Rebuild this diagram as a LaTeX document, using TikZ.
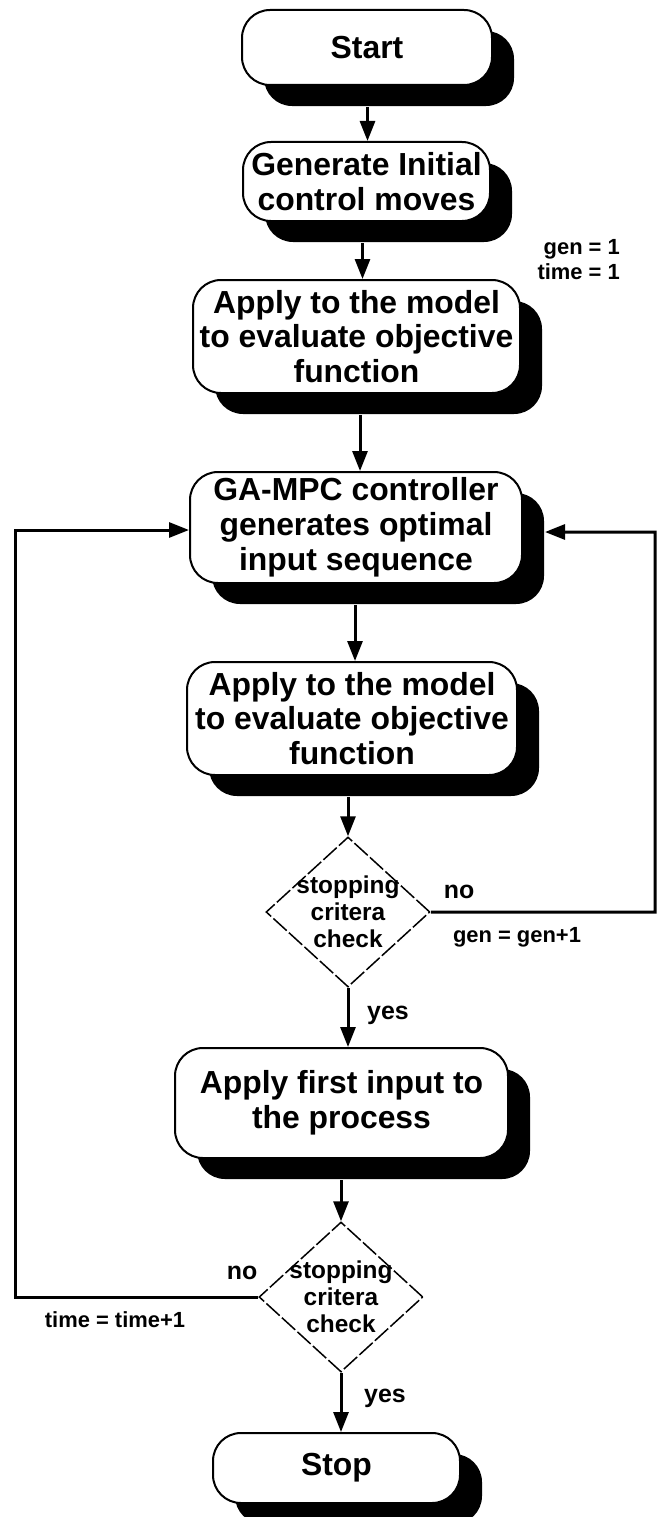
\documentclass[tikz,border=0pt]{standalone}
\usepackage{fontspec}
\setmainfont{Liberation Sans}
\usetikzlibrary{shapes.geometric,arrows.meta,shadows,calc}

\begin{document}
\begin{tikzpicture}[x=1bp,y=-1bp,
  box/.style={draw=black, line width=2bp, fill=white, rounded corners=28bp,
    align=center, inner sep=0pt, font=\bfseries\fontsize{32}{35}\selectfont,
    drop shadow={opacity=1, fill=black, shadow xshift=22bp, shadow yshift=-21bp}},
  decision/.style={shape=diamond, draw=black, line width=1.5bp,
    dash pattern=on 18bp off 3bp, fill=white, inner sep=0pt,
    minimum width=164bp, minimum height=150bp},
  dtext/.style={align=center, inner sep=0pt, font=\bfseries\fontsize{24.5}{27}\selectfont},
  lbl/.style={inner sep=0pt, font=\bfseries\fontsize{22}{25}\selectfont},
  yn/.style={inner sep=0pt, font=\bfseries\fontsize{25}{28}\selectfont},
  flow/.style={line width=3bp, -{Triangle[length=20bp,width=15bp]}}
]
\useasboundingbox (0,0) rectangle (658,1517);
\fill[white] (0,0) rectangle (658,1517);

% process boxes
\node[box, minimum width=250bp, minimum height=75bp] (start) at (367,47.5) {Start};
\node[box, minimum width=247bp, minimum height=79bp] (gen) at (366.5,181.5)
  {Generate Initial\\control moves};
\node[box, minimum width=327bp, minimum height=113bp] (apply1) at (356.5,336.5)
  {Apply to the model\\to evaluate objective\\function};
\node[box, minimum width=332bp, minimum height=111bp] (ga) at (356,527.5)
  {GA-MPC controller\\generates optimal\\input sequence};
\node[box, minimum width=330bp, minimum height=113bp] (apply2) at (352,718.5)
  {Apply to the model\\to evaluate objective\\function};
\node[box, minimum width=333bp, minimum height=110bp] (first) at (341.5,1103)
  {Apply first input to\\the process};
\node[box, minimum width=247bp, minimum height=70bp] (stop) at (336.5,1468) {Stop};

% decisions
\node[decision] (d1) at (348,912) {};
\node[dtext] (d1t) at (d1) {stopping\\critera\\check};
\node[decision] (d2) at (341,1297) {};
\node[dtext] (d2t) at (d2) {stopping\\critera\\check};

% labels
\node[lbl, align=right, anchor=east] (init) at (620,259.5) {gen = 1\\time = 1};
\node[yn] (no1) at (459,892) {no};
\node[lbl] (inc1) at (517,937) {gen = gen+1};
\node[yn] (yes1) at (388,1015) {yes};
\node[yn] (no2) at (242,1273) {no};
\node[lbl] (inc2) at (115,1320) {time = time+1};
\node[yn] (yes2) at (385,1398) {yes};

% main flow
\draw[flow] ($(gen.north |- start.south)+(1,21)$) -- ($(gen.north)+(1,0)$);
\draw[flow] ($(apply1.north |- gen.south)+(6,21)$) -- ($(apply1.north)+(6,0)$);
\draw[flow] ($(ga.north |- apply1.south)+(4,21)$) -- ($(ga.north)+(4,0)$);
\draw[flow] ($(apply2.north |- ga.south)+(3,21)$) -- ($(apply2.north)+(3,0)$);
\draw[flow] ($(d1.north |- apply2.south)+(0,21)$) -- (d1.north);
\draw[flow] (d1.south) -- (d1.south |- first.north);
\draw[flow] ($(d2.north |- first.south)+(0,21)$) -- (d2.north);
\draw[flow] (d2.south) -- (d2.south |- stop.north);

% feedback loops
\coordinate (rturn) at (655,532);
\draw[flow] (d1.east) -| (rturn) -- ($(ga.east)+(22,4.5)$);
\coordinate (lturn) at (15,530);
\draw[flow] (d2.west) -| (lturn) -- (ga.west |- lturn);
\end{tikzpicture}
\end{document}
